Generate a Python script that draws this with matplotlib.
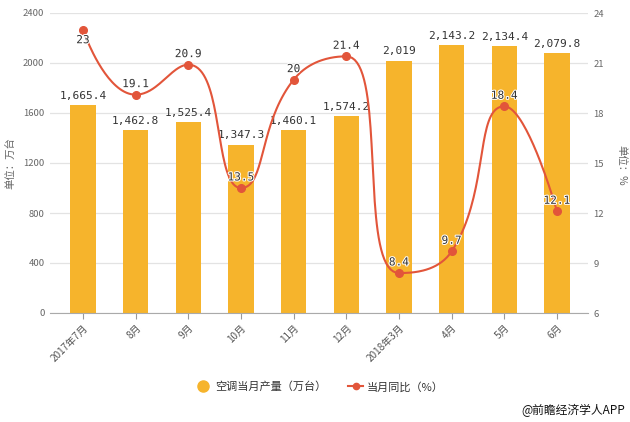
import numpy as np
import matplotlib
matplotlib.use("Agg")
import matplotlib.pyplot as plt
import matplotlib.patheffects as pe
from matplotlib.lines import Line2D

plt.rcParams['font.family'] = ['Noto Sans CJK SC', 'DejaVu Sans']

categories = ["2017年7月", "8月", "9月", "10月", "11月", "12月", "2018年3月", "4月", "5月", "6月"]
production = [1665.4, 1462.8, 1525.4, 1347.3, 1460.1, 1574.2, 2019, 2143.2, 2134.4, 2079.8]
yoy = [23, 19.1, 20.9, 13.5, 20, 21.4, 8.4, 9.7, 18.4, 12.1]
left_ticks = [0, 400, 800, 1200, 1600, 2000, 2400]
right_ticks = [6, 9, 12, 15, 18, 21, 24]

BAR = "#F6B42C"
LINE = "#E2553A"
W, H = 630, 422
NUMFONT = ['DejaVu Sans Mono']

fig = plt.figure(figsize=(W / 100, H / 100), dpi=100)
x0, x1, y0, y1 = 50, 588, 13, 313
ax = fig.add_axes([x0 / W, 1 - y1 / H, (x1 - x0) / W, (y1 - y0) / H])
ax2 = ax.twinx()

x = np.arange(len(categories))
step = (557 - 83) / 9
ax.set_xlim(-(83 - x0) / step, 9 + (x1 - 557) / step)
ax.set_ylim(0, 2400)
ax2.set_ylim(6, 24)

bars = ax.bar(x, production, width=0.48, color=BAR, zorder=2)
for xi, v in zip(x, production):
    s = f"{v:,.1f}" if v != int(v) else f"{int(v):,}"
    ax.annotate(s, (xi, v), xytext=(0, 3), textcoords="offset points",
                ha="center", va="bottom", fontsize=8.0, color="#333333", zorder=5,
                family=NUMFONT)

ax.set_yticks(left_ticks)
ax.set_yticklabels([str(t) for t in left_ticks], fontsize=6.8, color="#666666")
ax.grid(axis="y", color="#e3e3e3", linewidth=0.9, zorder=0)
ax.set_axisbelow(True)
ax.tick_params(axis="y", length=0, pad=4)
ax.set_xticks(x)
ax.set_xticklabels(categories, rotation=45, ha="right", rotation_mode="anchor",
                   fontsize=7.2, color="#555555")
ax.tick_params(axis="x", length=4, color="#999999", pad=3)
for sp in ["top", "right", "left"]:
    ax.spines[sp].set_visible(False)
ax.spines["bottom"].set_color("#aaaaaa")
for sp in ["top", "right", "left", "bottom"]:
    ax2.spines[sp].set_visible(False)
ax2.set_yticks(right_ticks)
ax2.set_yticklabels([str(t) for t in right_ticks], fontsize=6.8, color="#666666")
ax2.tick_params(axis="y", length=0, pad=4)

# echarts-style smoothed line computed in display space
def smooth_path(P, smooth=0.5):
    n = len(P)
    pts = []
    cp0 = P[0]
    for i in range(1, n):
        px, py = P[i - 1]
        xx, yy = P[i]
        if i < n - 1:
            nx, ny = P[i + 1]
            vx, vy = nx - px, ny - py
            lp = np.hypot(xx - px, yy - py)
            ln = np.hypot(nx - xx, ny - yy)
            r = ln / (ln + lp)
            ncx = xx + vx * smooth * r
            ncy = yy + vy * smooth * r
            ncx = min(ncx, max(nx, xx)); ncy = min(ncy, max(ny, yy))
            ncx = max(ncx, min(nx, xx)); ncy = max(ncy, min(ny, yy))
            vx, vy = ncx - xx, ncy - yy
            c1x = xx - vx * lp / ln; c1y = yy - vy * lp / ln
            c1x = min(c1x, max(px, xx)); c1y = min(c1y, max(py, yy))
            c1x = max(c1x, min(px, xx)); c1y = max(c1y, min(py, yy))
            vx, vy = xx - c1x, yy - c1y
            ncx = xx + vx * ln / lp; ncy = yy + vy * ln / lp
        else:
            c1x, c1y = xx, yy
            ncx, ncy = xx, yy
        t = np.linspace(0, 1, 40)[:, None]
        A = np.array([px, py]); B = np.array(cp0); C = np.array([c1x, c1y]); D = np.array([xx, yy])
        seg = (1 - t) ** 3 * A + 3 * (1 - t) ** 2 * t * B + 3 * (1 - t) * t ** 2 * C + t ** 3 * D
        pts.append(seg if i == 1 else seg[1:])
        cp0 = (ncx, ncy)
    return np.vstack(pts)

disp = ax2.transData.transform(np.column_stack([x, yoy]))
curve = ax2.transData.inverted().transform(smooth_path(disp))
ax2.plot(curve[:, 0], curve[:, 1], color=LINE, linewidth=1.5, zorder=3)
ax2.plot(x, yoy, "o", color=LINE, markersize=5.5, zorder=4)
for i, (xi, v) in enumerate(zip(x, yoy)):
    s = f"{v:g}"
    dy = -4 if i == 0 else 4
    va = "top" if i == 0 else "bottom"
    ax2.annotate(s, (xi, v), xytext=(0, dy), textcoords="offset points",
                 ha="center", va=va, fontsize=8.0, color="#333333", zorder=6,
                 family=NUMFONT,
                 path_effects=[pe.withStroke(linewidth=1.5, foreground="white")])

fig.text(10 / W, 1 - 163 / H, "单位：万台", rotation=90, ha="center", va="center",
         fontsize=7.5, color="#666666")
fig.text(621 / W, 1 - 165 / H, "单位：%", rotation=270, ha="center", va="center",
         fontsize=7.5, color="#666666")

handles = [
    Line2D([], [], marker="o", linestyle="none", color=BAR, markersize=8),
    Line2D([], [], marker="o", linestyle="-", color=LINE, markersize=4.5, linewidth=1.5),
]
fig.legend(handles, ["空调当月产量（万台）", "当月同比（%）"], loc="center",
           bbox_to_anchor=(320 / W, 1 - 387 / H), ncol=2, frameon=False,
           fontsize=8, handlelength=1.3, handletextpad=0.4, columnspacing=2.0,
           labelcolor="#333333")
fig.text(625 / W, 1 - 410 / H, "@前瞻经济学人APP", ha="right", va="center",
         fontsize=8.5, color="#111111")

fig.savefig("out.png", dpi=100)
